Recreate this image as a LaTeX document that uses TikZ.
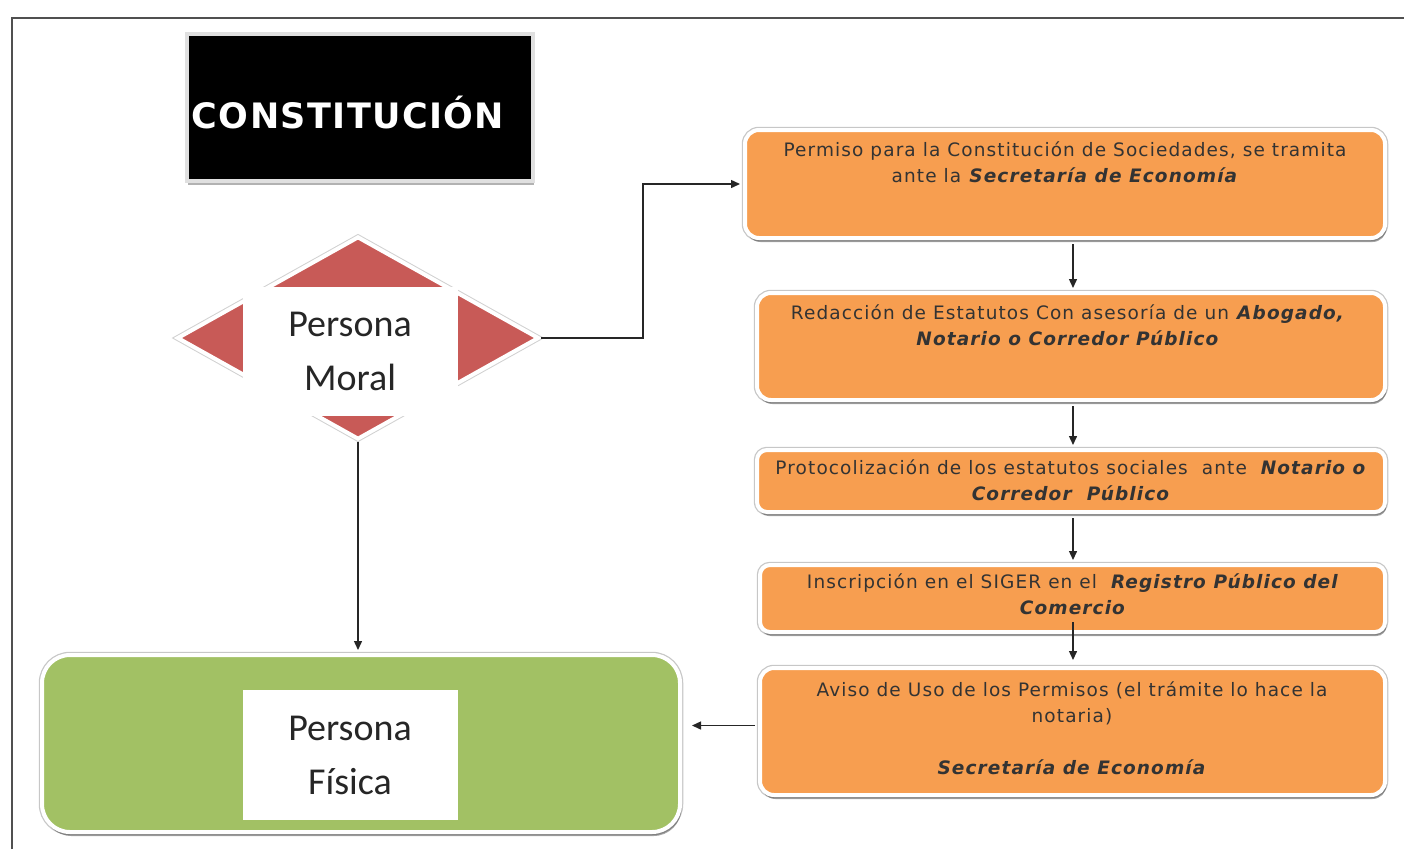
\documentclass[tikz,border=0pt]{standalone}
\usepackage{fontspec}
\setmainfont{DejaVu Sans}
\newfontfamily\calib{Carlito}
\newfontfamily\otxt[LetterSpace=6]{DejaVu Sans}
\newfontfamily\ttlf[LetterSpace=4]{DejaVu Sans}
\usetikzlibrary{shapes.geometric,arrows.meta,shadows,calc}
\definecolor{orng}{RGB}{247,158,80}
\definecolor{redd}{RGB}{200,90,87}
\definecolor{grn}{RGB}{162,193,100}
\definecolor{frm}{RGB}{80,80,80}
\begin{document}
\begin{tikzpicture}[x=1pt,y=-1pt,
 arr/.style={draw=black!85, line width=1.4pt, -{Triangle[length=9pt,width=8pt]}},
 card/.style={rectangle, rounded corners=14pt, draw=white, line width=4pt,
   preaction={draw=black!22, line width=6.5pt},
   drop shadow={shadow xshift=1.5pt, shadow yshift=-4pt, opacity=0.35, fill=black},
   inner sep=0pt},
 obox/.style={card, fill=orng},
 otext/.style={font=\otxt\fontsize{18.5}{26}\selectfont, align=center, text=black!80, inner sep=0pt},
 plabel/.style={rectangle, fill=white, inner sep=0pt, font=\calib\fontsize{38}{54}\selectfont, align=center, text=black!85},
]
\useasboundingbox (0,0) rectangle (1404,849);
% frame
\draw[frm, line width=1.6pt] (12,849) -- (12,18) -- (1404,18);

% title
\node[rectangle, fill=black, draw=black!12, line width=4pt,
  drop shadow={shadow xshift=1pt, shadow yshift=-4pt, opacity=0.3, fill=black},
  minimum width=346pt, minimum height=147pt, inner sep=0pt] (title) at (360,107.5) {};
\node[font=\ttlf\bfseries\fontsize{35}{40}\selectfont, text=white, inner sep=0pt] (ttl) at (348,113) {CONSTITUCIÓN};

% diamond
\node[diamond, fill=redd, draw=white, line width=4pt, preaction={draw=black!18, line width=6pt},
  minimum width=362pt, minimum height=203pt, inner sep=0pt] (pm) at (358,338) {};
\node[plabel, minimum width=215pt, minimum height=129pt] (pmt) at (350,351) {Persona\\Moral};

% green box
\node[card, fill=grn, rounded corners=28pt, minimum width=638pt, minimum height=177pt] (gr) at (361,743.5) {};
\node[plabel, minimum width=215pt, minimum height=130pt] (pft) at (350,755) {Persona\\Física};

% orange boxes
\node[obox, minimum width=640pt, minimum height=108pt] (b1) at (1065,184) {};
\node[otext] (t1) at (1065,162) {Permiso para la Constitución de Sociedades, se tramita\\ante la \textbf{\textit{Secretaría de Economía}}};

\node[obox, minimum width=628pt, minimum height=107pt] (b2) at (1071,346.5) {};
\node[otext] (t2) at (1068,325) {Redacción de Estatutos Con asesoría de un \textbf{\textit{Abogado,}}\\\textbf{\textit{Notario o Corredor Público}}};

\node[obox, rounded corners=10pt, minimum width=628pt, minimum height=62pt] (b3) at (1071,481) {};
\node[otext] (t3) at (1071,480) {Protocolización de los estatutos sociales\ \ ante \ \textbf{\textit{Notario o}}\\\textbf{\textit{Corredor\ \ Público}}};

\node[obox, rounded corners=10pt, minimum width=625pt, minimum height=67pt] (b4) at (1072.5,598.5) {};
\node[otext] (t4) at (1073,594) {Inscripción en el SIGER en el \ \textbf{\textit{Registro Público del}}\\\textbf{\textit{Comercio}}};

\node[obox, minimum width=625pt, minimum height=127pt] (b5) at (1072.5,731.5) {};
\node[otext] (t5) at (1072,728) {Aviso de Uso de los Permisos (el trámite lo hace la\\notaria)\\[26pt]\textbf{\textit{Secretaría de Economía}}};

% connectors
\coordinate (col) at (1073,0);
\draw[arr] (pm.east) -| ([xshift=-100pt]b1.west) -- ([xshift=-3pt]b1.west);
\draw[arr] (pm.south) -- ([yshift=3pt]pm.south |- gr.north);
\draw[arr] ([yshift=-4pt]b1.south -| col) -- ([yshift=3pt]b2.north -| col);
\draw[arr] ([yshift=-4pt]b2.south -| col) -- ([yshift=3pt]b3.north -| col);
\draw[arr] ([yshift=-4pt]b3.south -| col) -- ([yshift=3pt]b4.north -| col);
\draw[arr] ([yshift=12pt]b4.south -| col) -- ([yshift=6pt]b5.north -| col);
\draw[arr] ([xshift=-3pt,yshift=6pt]b5.west) -- ([xshift=10pt,yshift=6pt]b5.west -| gr.east);
\end{tikzpicture}
\end{document}
